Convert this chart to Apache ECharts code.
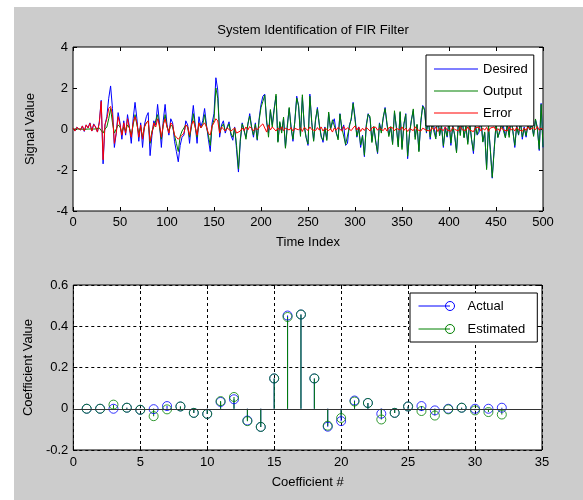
<!DOCTYPE html>
<html>
<head>
<meta charset="utf-8">
<script src="https://cdn.jsdelivr.net/npm/echarts@6/dist/echarts.min.js"></script>
<style>
body { margin: 0; background: #fff; }
#fig { position: absolute; left: 14px; top: 7px; width: 569px; height: 493px; background: #cccccc; }
</style>
</head>
<body>
<div id="fig"></div>
<script>
// signals, read every 2nd sample (time index 0..500)
var desired = [
  0.05, -0.1, 0.08, 0.12, -0.05, 0.15, -0.12, 0.2, 0.05, 0.3,
  -0.1, 0.25, 0.1, -0.15, 0.35, 1.4, -1.7, 0.2, 0.6, 1.5,
  2.1, 1.0, -0.9, -0.2, 0.8, 0.3, -0.5, 0.4, -0.3, 0.7,
  0.1, -0.7, 0.5, 1.3, 0.5, -0.6, 0.3, -0.9, 0.2, 0.6,
  0.8, -1.3, -0.3, 0.4, 0.2, 1.2, 0.3, -0.9, 0.4, 1.2,
  0.2, -0.3, 0.5, 0.3, -0.6, -1.1, -1.6, -0.8, -0.4, -0.3,
  0.4, 0.2, -0.7, 0.3, 1.15, 0.2, -0.7, 0.6, 0.1, 0.4,
  1.0, 0.2, -0.5, -1.1, 0.3, 0.75, 2.5, 1.9, -0.4, 0.2,
  0.4, -0.2, 0.1, 0.35, -0.3, -0.55, 0.1, -1.0, -2.1, -0.6,
  0.3, -0.1, -0.4, 0.2, 0.75, 0.1, -0.4, 0.3, -0.55, 0.5,
  1.2, 1.6, 1.7, 0.3, -0.2, 0.9, 0.2, 1.0, 1.6, -0.6,
  0.3, -0.1, 0.5, -0.9, 0.2, 1.0, 0.1, -0.6, 0.4, 1.6,
  1.1, -0.3, 1.55, 0.2, -0.4, -0.8, 1.7, 0.3, -0.55, 0.4,
  1.05, 0.2, -0.3, -0.65, 0.1, -0.5, 0.75, 0.0, 0.3, 0.5,
  -0.2, -0.45, 0.75, -0.05, 0.2, -0.8, -0.7, 0.2, 0.45, 1.3,
  0.6, -0.4, 0.1, -0.9, -0.3, -1.35, 0.2, 0.75, 0.5, -0.6,
  0.1, -0.55, -1.2, 0.3, -0.1, 0.5, 1.05, 0.2, -0.3, 0.1,
  -0.7, 0.8, 0.1, -0.8, 0.8, -0.9, 0.2, 0.75, -1.45, -0.2,
  0.45, 0.9, -0.4, 0.2, -1.05, 0.3, 1.15, 1.0, -0.2, 0.5,
  -0.5, 0.3, 0.1, -0.4, 0.6, -0.3, 0.2, -0.9, 0.1, -0.4,
  0.4, -0.8, 0.2, -0.3, -1.1, 0.3, -0.2, 0.5, -0.4, 0.1,
  -0.65, 0.3, -0.5, -1.2, 0.2, -0.3, -0.15, 0.4, -0.6, -0.2,
  -1.9, 0.1, -1.0, -2.4, -1.0, 0.2, -0.4, -0.15, 0.3, 0.1,
  -0.4, 0.2, -0.3, 0.5, -0.1, -0.9, 0.2, -0.3, 0.4, -0.5,
  0.1, -0.4, 0.3, -0.05, 0.2, -0.3, 0.45, 0.1, -1.05, 1.25,
  -0.9
];
var output = [
  0, 0, 0, 0.02, 0, 0, -0.02, 0, 0, 0.02,
  0, 0.03, 0, 0, 0.05, 0.05, -0.2, 0, 0.1, 0.5,
  1.0, 0.3, -0.2, 0, 0.2, 0.1, -0.2, 0.1, -0.1, 0.2,
  0.05, -0.3, 0.2, 0.7, 0.2, -0.2, 0.1, -0.4, 0.1, 0.3,
  0.4, -0.7, -0.1, 0.1, 0.1, 0.7, 0.1, -0.5, 0.2, 0.7,
  0.1, -0.1, 0.2, 0.1, -0.3, -0.7, -1.1, -0.35, -0.1, -0.1,
  0.2, 0.1, -0.4, 0.1, 0.75, 0.1, -0.4, 0.3, 0.05, 0.2,
  0.7, 0.1, -0.3, -0.8, 0.15, 0.45, 2.0, 1.5, -0.2, 0.1,
  0.25, -0.1, 0.05, 0.25, -0.2, -0.4, 0.05, -0.8, -1.95, -0.5,
  0.25, -0.02, -0.5, 0.25, 0.63, 0.08, -0.3, 0.24, -0.51, 0.42,
  1.05, 1.35, 1.65, 0.45, -0.4, 0.95, 0.1, 0.92, 1.7, -0.65,
  0.36, -0.2, 0.58, -0.94, 0.08, 1.05, 0.03, -0.5, 0.37, 1.51,
  1.14, -0.36, 1.67, 0.12, -0.42, -0.73, 1.6, 0.33, -0.6, 0.48,
  0.98, 0.25, -0.4, -0.55, 0.06, -0.56, 0.83, -0.02, 0.45, 0.45,
  -0.14, -0.53, 0.72, 0.05, 0.08, -0.76, -0.76, 0.1, 0.53, 1.25,
  0.45, -0.35, 0.0, -0.78, -0.34, -1.28, 0.12, 0.73, 0.6, -0.66,
  0.13, -0.64, -1.14, 0.26, -0.2, 0.58, 1.0, 0.3, -0.37, 0.12,
  -0.76, 0.89, 0.07, -0.88, 0.85, -1.0, 0.27, 0.71, -1.33, -0.22,
  0.4, 0.98, -0.51, 0.23, -1.11, 0.4, 1.11, 0.92, -0.14, 0.48,
  -0.4, 0.23, 0.14, -0.49, 0.72, -0.33, 0.14, -0.82, 0.0, -0.35,
  0.36, -0.69, 0.12, -0.28, -1.16, 0.39, -0.32, 0.54, -0.43, 0.17,
  -0.75, 0.35, -0.52, -1.07, 0.14, -0.27, -0.24, 0.5, -0.64, -0.14,
  -1.98, 0.22, -1.05, -2.36, -1.1, 0.28, -0.42, -0.05, 0.23, 0.15,
  -0.43, 0.29, -0.41, 0.56, -0.14, -0.8, 0.12, -0.27, 0.34, -0.39,
  0.05, -0.33, 0.2, -0.03, 0.28, -0.36, 0.49, -0.02, -0.99, 1.2,
  -0.87
];
var error = [
  0.05, -0.1, 0.08, 0.1, -0.05, 0.15, -0.1, 0.2, 0.05, 0.28,
  -0.1, 0.22, 0.1, -0.15, 0.3, 1.35, -1.5, 0.2, 0.5, 1.0,
  1.1, 0.7, -0.7, -0.2, 0.6, 0.2, -0.3, 0.3, -0.2, 0.5,
  0.05, -0.4, 0.3, 0.6, 0.3, -0.4, 0.2, -0.5, 0.1, 0.3,
  0.4, -0.6, -0.2, 0.3, 0.1, 0.5, 0.2, -0.4, 0.2, 0.5,
  0.1, -0.2, 0.3, 0.2, -0.3, -0.4, -0.5, -0.45, -0.3, -0.2,
  0.2, 0.1, -0.3, 0.2, 0.4, 0.1, -0.3, 0.3, 0.05, 0.2,
  0.3, 0.1, -0.2, -0.3, 0.15, 0.3, 0.5, 0.4, -0.2, 0.1,
  0.15, -0.1, 0.05, 0.1, -0.1, -0.15, 0.05, -0.2, -0.15, -0.1,
  0.05, -0.08, 0.1, -0.05, 0.12, 0.02, -0.1, 0.06, -0.04, 0.08,
  0.15, 0.25, 0.05, -0.15, 0.2, -0.05, 0.1, 0.08, -0.1, 0.05,
  -0.06, 0.1, -0.08, 0.04, 0.12, -0.05, 0.07, -0.1, 0.03, 0.09,
  -0.04, 0.06, -0.12, 0.08, 0.02, -0.07, 0.1, -0.03, 0.05, -0.08,
  0.07, -0.05, 0.1, -0.1, 0.04, 0.06, -0.08, 0.02, -0.15, 0.05,
  -0.06, 0.08, 0.03, -0.1, 0.12, -0.04, 0.06, 0.1, -0.08, 0.05,
  0.15, -0.05, 0.1, -0.12, 0.04, -0.07, 0.08, 0.02, -0.1, 0.06,
  -0.03, 0.09, -0.06, 0.04, 0.1, -0.08, 0.05, -0.1, 0.07, -0.02,
  0.06, -0.09, 0.03, 0.08, -0.05, 0.1, -0.07, 0.04, -0.12, 0.02,
  0.05, -0.08, 0.11, -0.03, 0.06, -0.1, 0.04, 0.08, -0.06, 0.02,
  -0.1, 0.07, -0.04, 0.09, -0.12, 0.03, 0.06, -0.08, 0.1, -0.05,
  0.04, -0.11, 0.08, -0.02, 0.06, -0.09, 0.12, -0.04, 0.03, -0.07,
  0.1, -0.05, 0.02, -0.13, 0.06, -0.03, 0.09, -0.1, 0.04, -0.06,
  0.08, -0.12, 0.05, -0.04, 0.1, -0.08, 0.02, -0.1, 0.07, -0.05,
  0.03, -0.09, 0.11, -0.06, 0.04, -0.1, 0.08, -0.03, 0.06, -0.11,
  0.05, -0.07, 0.1, -0.02, -0.08, 0.06, -0.04, 0.12, -0.06, 0.05,
  -0.03
];

// FIR coefficients 1..32
var coefIdx = [1,2,3,4,5,6,7,8,9,10,11,12,13,14,15,16,17,18,19,20,21,22,23,24,25,26,27,28,29,30,31,32];
var actual = [0, 0, 0, 0.005, -0.005, -0.002, 0.013, 0.011, -0.02, -0.025, 0.033, 0.046, -0.057, -0.088, 0.147, 0.452,
              0.457, 0.147, -0.087, -0.06, 0.04, 0.028, -0.024, -0.02, 0.011, 0.013, -0.008, 0, 0.005, 0, 0, 0.005];
var estimated = [0, 0, 0.02, 0.005, -0.005, -0.036, -0.003, 0.011, -0.02, -0.025, 0.037, 0.057, -0.06, -0.088, 0.147, 0.445,
                 0.457, 0.147, -0.082, -0.045, 0.035, 0.028, -0.052, -0.02, 0.011, -0.011, -0.033, -0.003, 0.005, -0.008, -0.016, -0.028];

var FONT = 'Liberation Sans';
var BLUE = '#0000ff', GREEN = '#008000', RED = '#ff0000';

function pairs(xs, ys) {
  var out = [];
  for (var i = 0; i < ys.length; i++) out.push([xs[i], ys[i]]);
  return out;
}
var timeIdx = [];
for (var i = 0; i < desired.length; i++) timeIdx.push(i * 2);

var txt = { color: '#000', fontFamily: FONT, fontSize: 13 };
function tickIn() { return { show: true, inside: true, length: 4, lineStyle: { color: '#000', width: 1 } }; }
function dash() { return { show: true, lineStyle: { color: '#000', type: [3, 3], width: 1 } }; }

var stemIcon = 'path://M0,4.5 L31.5,4.5 M36,4.5 A4.5,4.5 0 1,1 27,4.5 A4.5,4.5 0 1,1 36,4.5';

var chart = echarts.init(document.getElementById('fig'));
chart.setOption({
  animation: false,
  title: {
    text: 'System Identification of FIR Filter',
    left: 294, top: 12, textAlign: 'center',
    textStyle: { color: '#000', fontFamily: FONT, fontSize: 13, fontWeight: 'normal' }
  },
  legend: [{
    orient: 'vertical', left: 412, top: 48,
    itemWidth: 44, itemHeight: 1, itemGap: 8,
    padding: [7, 6, 6, 8],
    backgroundColor: '#fff', borderColor: '#000', borderWidth: 1, borderRadius: 0,
    textStyle: { color: '#000', fontFamily: FONT, fontSize: 13, lineHeight: 14 },
    data: [
      { name: 'Desired', icon: 'rect', itemStyle: { color: BLUE } },
      { name: 'Output', icon: 'rect', itemStyle: { color: GREEN } },
      { name: 'Error', icon: 'rect', itemStyle: { color: RED } }
    ]
  }, {
    orient: 'vertical', left: 396, top: 286,
    itemWidth: 36, itemHeight: 9, itemGap: 9,
    padding: [6, 12, 6, 8],
    backgroundColor: '#fff', borderColor: '#000', borderWidth: 1, borderRadius: 0,
    textStyle: { color: '#000', fontFamily: FONT, fontSize: 13, lineHeight: 14, padding: [0, 0, 0, 8] },
    data: [
      { name: 'Actual', icon: stemIcon, itemStyle: { color: 'rgba(0,0,0,0)', borderColor: BLUE, borderWidth: 1 } },
      { name: 'Estimated', icon: stemIcon, itemStyle: { color: 'rgba(0,0,0,0)', borderColor: GREEN, borderWidth: 1 } }
    ]
  }],
  grid: [
    { left: 59, top: 40, width: 470, height: 164, show: true, backgroundColor: '#fff', borderColor: '#000', borderWidth: 1 },
    { left: 59, top: 278, width: 469, height: 165, show: true, backgroundColor: '#fff', borderColor: '#000', borderWidth: 1 }
  ],
  xAxis: [
    { type: 'value', gridIndex: 0, min: 0, max: 500, interval: 50,
      name: 'Time Index', nameLocation: 'middle', nameGap: 25, nameTextStyle: txt,
      axisLine: { show: false, onZero: false }, axisTick: tickIn(), splitLine: { show: false },
      axisLabel: { margin: 5, color: '#000', fontFamily: FONT, fontSize: 13 } },
    { type: 'value', gridIndex: 0, position: 'top', min: 0, max: 500, interval: 50,
      axisLine: { show: false, onZero: false }, axisTick: tickIn(), axisLabel: { show: false }, splitLine: { show: false } },
    { type: 'value', gridIndex: 1, min: 0, max: 35, interval: 5,
      name: 'Coefficient #', nameLocation: 'middle', nameGap: 26, nameTextStyle: txt,
      axisLine: { show: false, onZero: false }, axisTick: tickIn(), splitLine: dash(),
      axisLabel: { margin: 6, color: '#000', fontFamily: FONT, fontSize: 13 } },
    { type: 'value', gridIndex: 1, position: 'top', min: 0, max: 35, interval: 5,
      axisLine: { show: false, onZero: false }, axisTick: tickIn(), axisLabel: { show: false }, splitLine: { show: false } }
  ],
  yAxis: [
    { type: 'value', gridIndex: 0, min: -4, max: 4, interval: 2,
      name: 'Signal Value', nameLocation: 'middle', nameGap: 36, nameTextStyle: txt,
      axisLine: { show: false, onZero: false }, axisTick: tickIn(), splitLine: { show: false },
      axisLabel: { margin: 5, color: '#000', fontFamily: FONT, fontSize: 13 } },
    { type: 'value', gridIndex: 0, position: 'right', min: -4, max: 4, interval: 2,
      axisLine: { show: false, onZero: false }, axisTick: tickIn(), axisLabel: { show: false }, splitLine: { show: false } },
    { type: 'value', gridIndex: 1, min: -0.2, max: 0.6, interval: 0.2,
      name: 'Coefficient Value', nameLocation: 'middle', nameGap: 36, nameTextStyle: txt,
      axisLine: { show: false, onZero: false }, axisTick: tickIn(), splitLine: dash(),
      axisLabel: { margin: 5, color: '#000', fontFamily: FONT, fontSize: 13,
        formatter: function (v) { return String(+v.toFixed(1)); } } },
    { type: 'value', gridIndex: 1, position: 'right', min: -0.2, max: 0.6, interval: 0.2,
      axisLine: { show: false, onZero: false }, axisTick: tickIn(), axisLabel: { show: false }, splitLine: { show: false } }
  ],
  series: [
    { name: 'Desired', type: 'line', xAxisIndex: 0, yAxisIndex: 0, data: pairs(timeIdx, desired),
      showSymbol: false, symbol: 'none', lineStyle: { color: BLUE, width: 1 }, itemStyle: { color: BLUE } },
    { name: 'Output', type: 'line', xAxisIndex: 0, yAxisIndex: 0, data: pairs(timeIdx, output),
      showSymbol: false, symbol: 'none', lineStyle: { color: GREEN, width: 1 }, itemStyle: { color: GREEN } },
    { name: 'Error', type: 'line', xAxisIndex: 0, yAxisIndex: 0, data: pairs(timeIdx, error),
      showSymbol: false, symbol: 'none', lineStyle: { color: RED, width: 1 }, itemStyle: { color: RED } },

    { name: 'Actual', type: 'bar', xAxisIndex: 2, yAxisIndex: 2, data: pairs(coefIdx, actual),
      barWidth: 1, barGap: '-100%', itemStyle: { color: BLUE },
      markLine: { silent: true, symbol: 'none', label: { show: false },
        lineStyle: { color: '#333', type: 'solid', width: 1 }, data: [{ yAxis: 0 }] } },
    { name: 'Estimated', type: 'bar', xAxisIndex: 2, yAxisIndex: 2, data: pairs(coefIdx, estimated),
      barWidth: 1, barGap: '-100%', itemStyle: { color: GREEN } },
    { name: 'Actual', type: 'scatter', xAxisIndex: 2, yAxisIndex: 2, data: pairs(coefIdx, actual),
      symbol: 'circle', symbolSize: 9,
      itemStyle: { color: 'rgba(0,0,0,0)', borderColor: BLUE, borderWidth: 1 } },
    { name: 'Estimated', type: 'scatter', xAxisIndex: 2, yAxisIndex: 2, data: pairs(coefIdx, estimated),
      symbol: 'circle', symbolSize: 9,
      itemStyle: { color: 'rgba(0,0,0,0)', borderColor: GREEN, borderWidth: 1 } }
  ]
});
</script>
</body>
</html>
